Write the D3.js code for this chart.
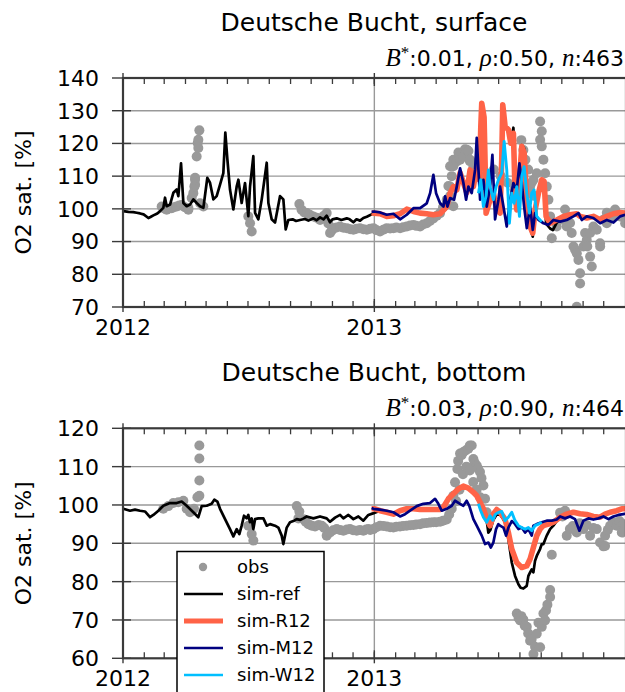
<!DOCTYPE html>
<html><head><meta charset="utf-8">
<script src="https://cdn.jsdelivr.net/npm/d3@7"></script>
<style>body{margin:0;background:#fff}svg{display:block}text{font-family:"DejaVu Sans",sans-serif;fill:#000}</style>
</head><body><svg id="c" width="625" height="692"></svg>
<script>
// ---- data: [days since 2012-01-01, O2 saturation %] ----
const yearTicks = ["2012","2013"];
const surfTicks = [70,80,90,100,110,120,130,140];
const botTicks = [60,70,80,90,100,110,120];
const seriesNames = ["obs","sim-ref","sim-R12","sim-M12","sim-W12"];
const seriesColors = ["#999999","#000000","#ff6347","#000080","#00bfff"];

const surfStats = {B:"0.01", rho:"0.50", n:"463"};
const botStats = {B:"0.03", rho:"0.90", n:"464"};

const surfObs = [[56.3,100.7],[60,100.1],[63.6,99.7],[67,100.1],[70.9,100.2],[74,100.5],[78.2,100.7],[82,101],[85.4,101.2],[90,100.5],[95.2,99.7],[95.2,100.3],[100,103.3],[102.4,104.8],[103.9,106.8],[105,107.4],[104.9,108.9],[105,109.5],[107.3,116],[108.8,120.1],[109.7,118.6],[109.7,121.1],[111.2,124],[112.2,101.7],[117,100.7],
[182.5,97.7],[185,95.6],[187.4,93.1],
[256.8,101.5],[260,99.7],[264,98.9],[267.5,98.7],[272,98.2],[277,97.7],[282,97.3],[287,96.6],[292,97.8],[296.6,98.7],[299,95.5],[301.5,92.6],[304,93.4],[306.4,94.1],[311,94.3],[316,94.6],[321,94.2],[326,94.1],[331,93.8],[335.5,93.6],[340,93.9],[345,94.1],[350,93.8],[355,93.6],[360,93.9],[364.6,94.1],[369,93.5],[374.3,93.1],[379,93.6],[384,94.1],[389,94],[393.8,94.1],[398,94.3],[403.5,94.1],[408,94.4],[413.2,94.6],[418,94.9],[422.9,95.1],[427,94.8],[432.6,94.6],[437,95.2],[442.3,95.6],[447,96.3],[452,97.1],[457,97.9],[461.7,98.7],[466,100.5],[471.4,102.8],[473.8,107],[476.3,103.9],[476.3,106.8],[476.3,113],[478.7,110],[481,100.8],[481,115],[481.1,113],[486,114.5],[488.4,117.2],[490.9,115],[495.7,116],[498,118.2],[500.6,118.1],[503,117.7],[505,114.6],[505.4,115],[510.3,113],[515,112],[520,110],[530,108],[540,112],[550,110],[560,108],[570,106],[580,121],[583,118],[586,115],[588,104.8],[590,112],[592.8,106.8],[595,108],[597.7,108.9],[598,104],[602.5,110.9],[607.4,126.7],[609.8,123.7],[607.4,121.1],[609.8,119.1],[612.2,115],[614.7,110.9],[617.1,106.8],[619.5,102.8],[622,97.7],[624.4,91],[631.6,94.6],[641.4,96.6],[643.7,99.8],[646.2,94.6],[651,95.7],[653.4,92.6],[656,88.5],[658.3,87.5],[660.8,86.4],[663.2,84.4],[665.6,80.3],[665.6,77.2],[660.8,70.1],[670.5,88.5],[672.9,92.6],[675.3,90.5],[676.1,88.5],[680.2,85.4],[682.6,82.4],[680.2,92.6],[685,94.6],[689.9,93.6],[694.8,88.5],[694.7,89.5],[699.6,96.7],[704.5,95.6],[704.5,98.8],[714.2,97.7],[716.6,99.8],[723.9,97.7],[726.3,97.7],[731.2,95.6]];

const surfRef = [[0.5,99.3],[8,99.1],[15,99.0],[20,98.8],[24.8,98.6],[30,98.3],[37,97.2],[40,97.5],[44.2,98.0],[50,98.6],[54,99.3],[58.7,100.3],[61.2,103.4],[63.6,100.8],[68.5,101.3],[73.3,104.9],[78.2,105.9],[80.6,103.9],[84.5,113.9],[87.9,101.8],[92.7,100.8],[97.6,101.3],[102.4,102.9],[107.3,101.8],[112.2,100.8],[117,100.3],[122.8,109.5],[126.7,108],[131.6,102.9],[136.4,103.9],[141.3,107.4],[146.1,110.9],[149,123.3],[152,115.1],[155.8,105.9],[160.7,99.8],[165.6,106.9],[168,108.9],[172.8,101.8],[177.7,107.9],[182.5,97.8],[185,106.9],[189.8,116.1],[192.3,98.8],[197.1,96.8],[202,102.9],[209.3,114.1],[211.7,101.8],[216.5,96.8],[221.4,95.8],[228.7,103.9],[233.5,102.9],[236.9,93.7],[240.8,96.6],[247,96.8],[252,96.3],[257.8,96.6],[265,96.9],[270,96.4],[277.2,97.1],[282,96.5],[287,97.4],[292,96.8],[296.6,97.9],[301.5,95.9],[305,96.8],[311.2,97.1],[318,96.6],[325.8,97.1],[330,96.8],[335.5,95.9],[340,96.8],[345.2,96.4],[350,97.2],[355,97.6],[365.6,98.7],[374,98.3],[384,97.5],[394,97.8],[403,98.3],[413,99.7],[423,99],[433,98.5],[442,98.3],[452,98],[462,98.3],[471,100.5],[476,104.5],[481,106.5],[486,105.5],[491,110.8],[496,108],[501,105],[505,111.5],[510,106.5],[515,112.5],[519,108.5],[521,124],[522.4,131.5],[525.8,127.5],[527.7,110],[528.7,98.5],[534.5,102.5],[539.4,104.5],[544,99.5],[549,98.5],[551.5,114],[553,131],[556.4,125],[561.3,124.5],[564.6,120],[568.5,124.8],[571,104.5],[573.4,99.5],[577.3,108.5],[580.7,119.5],[584.1,118.5],[588,102.5],[592.8,94],[596.7,91.5],[600.1,99.5],[605,104.5],[609.8,108.5],[613.2,108],[616.1,95.5],[621.9,94],[626,93.5],[631.6,95.8],[641.4,97.3],[651,98],[661,98.2],[666,97.5],[675,97],[685,97.5],[695,96.5],[704,97.5],[714,98.3],[724,98.7],[731,98.5]];

const surfR12 = [[362,98.8],[365.6,98.7],[374.3,98.5],[384,97.7],[393.8,97.9],[403.5,98.5],[413.2,99.9],[422.9,99.2],[432.6,98.7],[442.3,98.5],[452,98.2],[461.7,98.5],[471.4,100.7],[476.3,104.8],[481.1,106.8],[486,105.8],[490.9,111],[495.7,108],[500.6,105],[505.4,111.9],[510.3,106.8],[515.1,113],[519,108.9],[521,125],[522.4,132.3],[525.8,128],[527.7,110],[528.7,98.7],[534.5,102.8],[539.4,104.8],[544.3,99.7],[549.1,98.7],[551.5,115],[553,131.8],[556.4,125.2],[561.3,124.2],[564.6,120.1],[568.5,123.1],[571,104.8],[573.4,99.7],[577.3,108.9],[580.7,119.1],[584.1,117.1],[588,102.8],[592.8,94.6],[596.7,92.6],[600.1,99.7],[605,104.8],[609.8,108.9],[613.2,108.4],[616.1,97.7],[621.9,95.6],[631.6,96.6],[641.4,97.7],[651.1,98.2],[660.8,98.5],[665.6,97.7],[675.3,97.2],[685,97.7],[694.8,96.7],[704.5,97.7],[714.2,98.5],[723.9,98.9],[731.2,98.7]];

const surfM12 = [[362,99.1],[365.6,99.2],[374.3,98.9],[384,98.2],[393.8,98.5],[403.5,96.8],[413.2,98.2],[422.9,100.2],[432.6,100.2],[442.3,101.7],[447.2,104.8],[452,110.4],[455.9,104.8],[461.7,101.7],[466.6,100.7],[469,103.8],[472.4,100.7],[476.3,103.3],[482.1,102.8],[486,106.8],[490.9,112.4],[495.7,107.9],[499.6,102.8],[503,106.8],[507.8,104.8],[512.7,111.9],[515.1,121.7],[517.6,111.9],[520,102.8],[524.8,108.9],[529.7,100.7],[534.5,106.8],[537.9,116.5],[541.8,96.8],[546.7,102.8],[549.1,106.8],[554,100.7],[558.8,94.6],[563.7,102.8],[568.5,107.9],[573.4,105.8],[577.3,113.9],[580.7,107.9],[584.1,100.7],[588,94.1],[592.8,100.7],[596.7,93.6],[600.1,98.7],[605,96.6],[612.3,95.6],[619.5,95.1],[626.8,96.6],[636.5,96.1],[646.2,96.6],[655.9,97.7],[663.2,98.7],[668.1,96.6],[675.3,97.7],[685,97.2],[694.8,95.6],[704.5,96.6],[714.2,95.8],[723.9,97.7],[731.2,98.2]];

const surfW12 = [[517.6,104.8],[521,108.9],[524.8,100.7],[528.7,103.8],[532.1,111.9],[534.5,106.8],[539.4,102.8],[543.3,106.8],[546.7,108.9],[551.5,110.9],[555,120.6],[558.8,111.9],[562.7,95.6],[566.1,104.8],[569.5,101.7],[573.4,106.8],[577.3,97.7],[580.7,110],[584.1,112.9],[588,104.8],[591.8,98.7],[595.2,104.8],[598.6,105.8],[602.5,97.7],[607.4,96.6],[609.8,96.1]];

const botObs = [[58.7,99],[66,99.7],[73.3,100.5],[80.6,100.7],[87.9,101.1],[92.7,99],[97.6,98.1],[103.4,99],[108.3,102],[111.2,102.4],[111.2,106.4],[111.2,112.1],[111.2,115.5],
[182.5,94.6],[187.4,92.4],[189.8,90.7],
[253,99.7],[255.4,96.5],[256.8,98.3],[262.7,96.3],[266,95.6],[270,95],[275,94.6],[279.7,94.4],[285,94.8],[289.4,94.6],[293,94],[296.6,92],[301.5,92.8],[306,93.4],[311.2,93.7],[316,93.5],[320.9,93.3],[326,93.6],[330.6,93.7],[335,93.4],[340.3,93.3],[345,93.5],[350,93.3],[354,93.6],[357.3,93.7],[360,93.5],[364.6,93.7],[369,94.2],[374.3,94.6],[379,94.5],[384,94.4],[389,94.2],[393.7,94.1],[398,94.3],[403.4,94.4],[408,94.5],[413.1,94.6],[418,94.7],[422.8,94.8],[427,94.9],[432.5,95],[437,95.2],[442.2,95.3],[447,95.4],[451.9,95.5],[456,95.5],[461.7,95.6],[466,95.9],[471.4,96.2],[475,97.5],[478.7,99],[481.1,102.4],[483.5,105.9],[486.9,109.4],[488,111.5],[490.8,113.4],[493,113],[495.6,113.8],[499,114.2],[502.9,114.7],[505,115.5],[507.8,115.5],[510.2,112],[512,111],[515.1,110.3],[517,109.5],[519.9,108.6],[522,107],[524.8,105.1],[527.2,101.6],[529.6,98.1],[485,101],[490,104],[495,108],[500,110],[505,109],[510,106],[515,104],[520,102],
[573.4,71.7],[576,70.5],[578.2,69.9],[580,71],[583,70.1],[585,68.5],[588,68.2],[590,66.5],[592.8,64.6],[595,64.9],[597.7,61.1],[600,63],[602.5,66.4],[605,69.3],[607.4,62.9],[609.8,68.2],[612.2,71.7],[614.7,69.9],[616,72.5],[618,74],[622,77.8],[622,76],[624.4,87],
[636.5,98],[640,97],[643.7,98.5],[646.2,92],[650.7,93.7],[655,94.5],[660.7,92.8],[665,95.2],[670.4,93.7],[675,94.8],[680.2,92],[685,94],[689.9,93.7],[694.7,90.2],[699.6,89.2],[702,89.3],[702,92],[706,93.5],[709.3,94.6],[714,95.5],[719,94.6],[723,95.8],[726.3,92.8],[728.7,95],[731,94.2]];

const botRef = [[0.5,99],[10.2,98.5],[17.5,98.8],[24.8,98.5],[32,98.3],[39.3,96.8],[44.2,97.4],[51.5,98.5],[58.7,99.8],[68.5,100.5],[78.2,100.5],[85.5,100.9],[92.7,99.8],[102.4,98.1],[109.7,96.8],[114.6,99.7],[121.9,99.8],[129.1,100.3],[133,101.4],[137.4,100.9],[141.3,99],[148.6,96.3],[155.8,93.7],[160.7,91.8],[165.6,93.7],[169.4,92.4],[172.8,94.6],[176.2,97.2],[180.1,96.5],[182.5,97.4],[184.9,95.5],[187.4,96.5],[189.8,93.7],[192.3,96.3],[197.1,96.5],[204.4,96.5],[209.3,94.6],[214.1,95],[221.4,94.6],[226.2,94.1],[231.1,92],[233.5,89.8],[238.4,94.1],[243.2,95.5],[248.1,95.8],[252.9,96.3],[257.8,96.1],[262.7,96.5],[267.5,97],[277.2,96.5],[286.9,97],[296.6,96.5],[301.5,95.6],[308.8,96.7],[316.1,97.4],[320.9,96.5],[328.2,97.4],[335.5,96.3],[342.7,97],[350,95.9],[357.3,97.4],[364,97.8],[374,98.5],[384,98.1],[394,97.6],[403,98.5],[413,99],[423,99],[433,98.8],[442,98.8],[452,98.8],[462,98.8],[467,99.4],[474,101.6],[481,102.9],[488,104.2],[496,104.9],[503,104.4],[510,103.3],[515,102.5],[520,100.7],[525,99],[530,95.5],[532,92.8],[535,93.5],[539,96],[544,97.5],[549,97.5],[553,96.5],[556.3,95.5],[561.2,91.1],[566.1,85],[570.9,81.5],[575.8,79.3],[579,78.4],[583,78.2],[587.9,78.9],[590.3,81.5],[592.8,82.4],[595.2,83.2],[597.6,82.4],[600,85.4],[602.5,86.7],[607.3,88.5],[609.8,89.8],[612.2,89.8],[617,92],[621.9,93.7],[626.7,94.6],[631.6,95.8],[636.5,96.8],[646,97.6],[656,98.1],[666,97.8],[675,97.6],[685,97.2],[695,97],[702,97.8],[709,98.3],[719,98.6],[726,99],[731,99]];

const botR12 = [[362,99],[366.9,99],[374.3,98.5],[384,98.1],[393.7,97.6],[403.4,98.5],[413.1,99],[422.8,99],[432.5,98.8],[442.2,98.8],[451.9,98.8],[461.7,98.8],[466.5,99.4],[473.8,101.6],[481.1,102.9],[488.4,104.2],[495.6,104.9],[502.9,104.4],[510.2,103.3],[515.1,102.4],[519.9,100.7],[524.8,99],[529.6,96.3],[534.5,94.6],[537,96],[539.3,97.6],[544.2,98.8],[549.1,98.1],[556.3,96.3],[561.2,92.8],[566.1,88.5],[573.3,85],[580.6,83.7],[587.9,84.1],[592.8,85.9],[597.6,88.9],[602.5,92],[607.3,93.7],[612.2,94.6],[619.5,95],[626.7,95.5],[636.5,96.8],[646.2,97.6],[655.9,98.1],[665.6,97.7],[675.3,97.5],[685,97],[694.7,96.8],[702,97.6],[709.3,98.1],[719,98.5],[726.3,99],[731.2,99]];

const botM12 = [[362,99.2],[364.6,99],[374.3,98.8],[384,98.5],[393.7,98.1],[403.4,97],[410.7,97.6],[418,98.5],[427.7,99.7],[437.4,100.3],[447.1,100.5],[454.4,101.6],[459.2,100.3],[464.1,98.5],[471.4,99],[478.7,99.8],[483.5,101.1],[490.8,100.3],[495.6,99.8],[500.5,101.1],[504.4,99.7],[510.2,96.3],[515.1,94.6],[522.4,92],[527.2,89.8],[532.1,90.2],[535.5,88.9],[539.3,90.2],[543.2,93.7],[546.6,95],[549,94.6],[554,94.1],[557.8,92],[561.2,94.1],[566.1,95.8],[570.9,95],[575.8,93.7],[580.6,94.1],[585.5,92.8],[590.3,93.7],[595.2,92],[597.6,94.6],[602.5,95],[609.8,95.5],[617,95.9],[624.3,95.9],[631.6,96.2],[636.5,97],[643.7,96.5],[651,97],[658.3,96.3],[664.6,93.3],[670.4,95.9],[677.7,96.5],[685,96.2],[692.3,96.5],[699.6,97],[706.9,96.3],[714.1,97],[721.4,97.4],[728.8,97.6],[731.2,97.8]];

const botW12 = [[517.5,100.3],[520.9,98.5],[524.8,96.8],[529.6,95.5],[534.5,97.2],[538.3,96],[542,97.5],[544.2,97.8],[549,98.2],[551.5,98.3],[556.3,95.9],[561.2,96.8],[566.1,98.1],[570.9,95.9],[575.8,94.6],[580.6,94.1],[585.5,93.7],[590.3,94.1],[595.2,93.3],[600,94.6],[604.9,95],[609.8,95.5]];

// ---- drawing ----
const svg = d3.select("#c");
const BASE = Date.UTC(2012,0,1);
const toDate = d => new Date(BASE + d*86400000);
const X0 = 123, X1 = 625;
const x = d3.scaleUtc().domain([new Date(Date.UTC(2012,0,1)), new Date(Date.UTC(2014,0,1))]).range([X0, X1]);
const yearDates = yearTicks.map(s => new Date(Date.UTC(+s,0,1)));
const months = d3.utcMonths(new Date(Date.UTC(2012,0,1)), new Date(Date.UTC(2014,0,1)));
const lineW = [0, 2.7, 5.6, 2.7, 2.9];

function panel(cfg){
  const y = d3.scaleLinear().domain(cfg.yDomain).range([cfg.bottom, cfg.top]);
  const g = svg.append("g");
  const clipId = "clip" + cfg.id;
  svg.append("clipPath").attr("id", clipId).append("rect")
    .attr("x", X0).attr("y", cfg.top).attr("width", X1 - X0).attr("height", cfg.bottom - cfg.top);

  // grid
  g.selectAll(".hg").data(cfg.ticks.slice(1, -1)).join("line")
    .attr("x1", X0).attr("x2", X1).attr("y1", d => y(d)).attr("y2", d => y(d))
    .attr("stroke", "#999").attr("stroke-width", 1.4);
  g.selectAll(".vg").data(yearDates.slice(1)).join("line")
    .attr("x1", d => x(d)).attr("x2", d => x(d)).attr("y1", cfg.top).attr("y2", cfg.bottom)
    .attr("stroke", "#999").attr("stroke-width", 1.4);

  const clipG = g.append("g").attr("clip-path", `url(#${clipId})`);
  clipG.selectAll("circle").data(cfg.obs).join("circle")
    .attr("cx", d => x(toDate(d[0]))).attr("cy", d => y(d[1])).attr("r", 5)
    .attr("fill", seriesColors[0]);

  const line = d3.line().x(d => x(toDate(d[0]))).y(d => y(d[1]));
  [cfg.ref, cfg.r12, cfg.m12, cfg.w12].forEach((data, i) => {
    clipG.append("path").attr("d", line(data)).attr("fill", "none")
      .attr("stroke", seriesColors[i + 1]).attr("stroke-width", lineW[i + 1]).attr("stroke-linejoin", "round");
  });

  // frame
  g.append("rect").attr("x", X0).attr("y", cfg.top).attr("width", X1 - X0 + 1).attr("height", cfg.bottom - cfg.top)
    .attr("fill", "none").attr("stroke", "#3a3a3a").attr("stroke-width", 2.2);

  // y ticks (in/out) and labels
  g.selectAll(".yt").data(cfg.ticks).join("line")
    .attr("x1", X0 - 11).attr("x2", X0 + 8).attr("y1", d => y(d)).attr("y2", d => y(d))
    .attr("stroke", "#3a3a3a").attr("stroke-width", 1.4);
  g.selectAll(".yl").data(cfg.ticks).join("text")
    .attr("x", 99).attr("y", d => y(d)).attr("dy", "0.36em").attr("text-anchor", "end")
    .attr("font-size", 22).text(d => d);

  // x minor ticks (monthly, inward) top & bottom
  g.selectAll(".mt").data(months).join("line")
    .attr("x1", d => x(d)).attr("x2", d => x(d)).attr("y1", cfg.top).attr("y2", cfg.top + 6)
    .attr("stroke", "#3a3a3a").attr("stroke-width", 1.3);
  g.selectAll(".mb").data(months).join("line")
    .attr("x1", d => x(d)).attr("x2", d => x(d)).attr("y1", cfg.bottom - 6).attr("y2", cfg.bottom)
    .attr("stroke", "#3a3a3a").attr("stroke-width", 1.3);
  // x major ticks in/out
  yearDates.forEach(d => {
    g.append("line").attr("x1", x(d)).attr("x2", x(d)).attr("y1", cfg.top - 5).attr("y2", cfg.top + 8)
      .attr("stroke", "#3a3a3a").attr("stroke-width", 1.4);
    g.append("line").attr("x1", x(d)).attr("x2", x(d)).attr("y1", cfg.bottom - 8).attr("y2", cfg.bottom + 5)
      .attr("stroke", "#3a3a3a").attr("stroke-width", 1.4);
  });
  g.selectAll(".xl").data(yearDates).join("text")
    .attr("x", d => x(d)).attr("y", cfg.bottom + 28).attr("text-anchor", "middle")
    .attr("font-size", 22).text((d, i) => yearTicks[i]);

  // y label
  g.append("text").attr("transform", `translate(31,${(cfg.top + cfg.bottom) / 2}) rotate(-90)`)
    .attr("text-anchor", "middle").attr("font-size", 22).text("O2 sat. [%]");

  // title
  g.append("text").attr("x", (X0 + X1) / 2).attr("y", cfg.top - 47).attr("text-anchor", "middle")
    .attr("font-size", 25).text(cfg.title);

  // stats
  const t = g.append("text").attr("x", 624).attr("y", cfg.top - 12).attr("text-anchor", "end").attr("font-size", 22);
  const math = s => t.append("tspan").attr("font-family", "'Liberation Serif', serif").attr("font-style", "italic").attr("font-size", 25).text(s);
  math("B");
  t.append("tspan").attr("font-family", "'Liberation Serif', serif").attr("font-size", 17).attr("dy", -8).text("*");
  t.append("tspan").attr("dy", 8).text(":" + cfg.stats.B + ", ");
  math("ρ");
  t.append("tspan").text(":" + cfg.stats.rho + ", ");
  math("n");
  t.append("tspan").text(":" + cfg.stats.n);
  return y;
}

panel({id: "s", top: 78, bottom: 307, yDomain: [70, 140], ticks: surfTicks, title: "Deutsche Bucht, surface",
  stats: surfStats, obs: surfObs, ref: surfRef, r12: surfR12, m12: surfM12, w12: surfW12});
panel({id: "b", top: 428.3, bottom: 658.3, yDomain: [60, 120], ticks: botTicks, title: "Deutsche Bucht, bottom",
  stats: botStats, obs: botObs, ref: botRef, r12: botR12, m12: botM12, w12: botW12});

// legend
const lg = svg.append("g");
lg.append("rect").attr("x", 177).attr("y", 551.5).attr("width", 147).attr("height", 160)
  .attr("fill", "#fff").attr("stroke", "#000").attr("stroke-width", 1.5);
seriesNames.forEach((name, i) => {
  const cy = 567 + i * 27;
  if (i === 0) {
    lg.append("circle").attr("cx", 203).attr("cy", cy).attr("r", 4.2).attr("fill", seriesColors[0]);
  } else {
    lg.append("line").attr("x1", 184).attr("x2", 223).attr("y1", cy).attr("y2", cy)
      .attr("stroke", seriesColors[i]).attr("stroke-width", i === 2 ? 5 : 2.4);
  }
  lg.append("text").attr("x", 237).attr("y", cy).attr("dy", "0.36em").attr("font-size", 18).text(name);
});
</script></body></html>
